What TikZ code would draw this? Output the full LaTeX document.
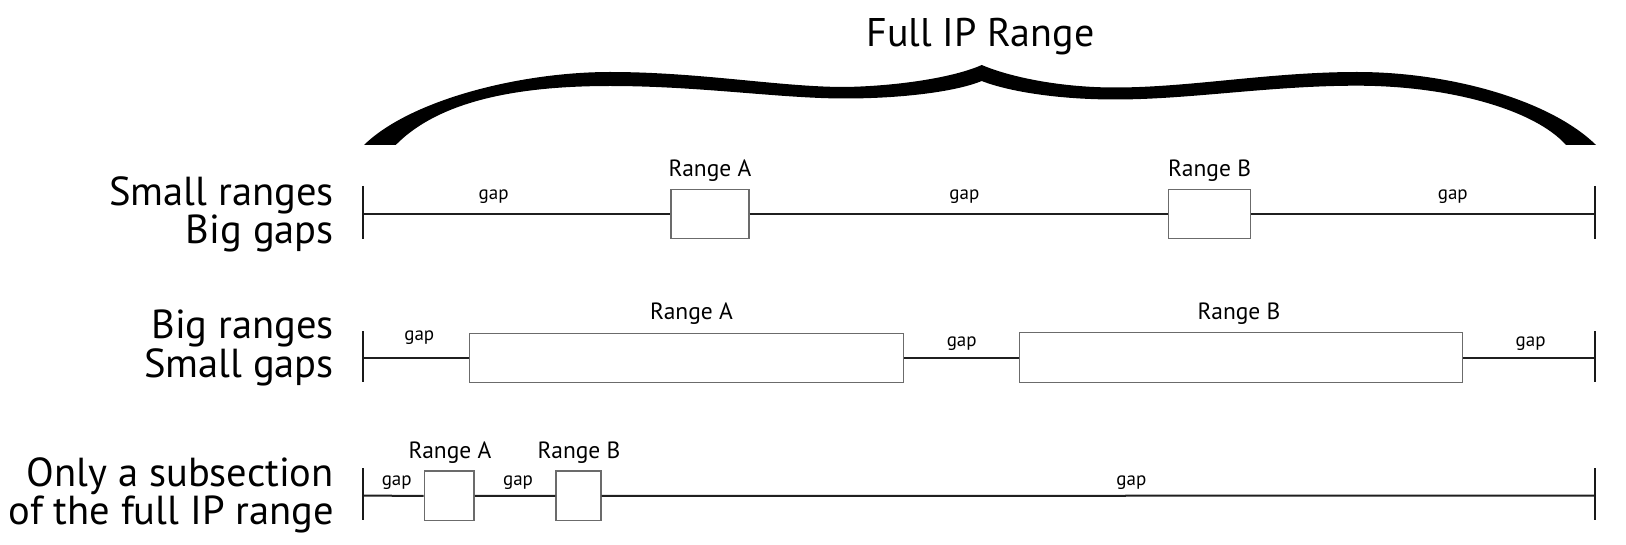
\documentclass[tikz,border=0pt]{standalone}
\usepackage{fontspec}
\setmainfont{PT Sans}
\begin{document}
\begin{tikzpicture}[x=1bp,y=-1bp,
  axis/.style={line width=2bp, draw=black!88},
  tickmark/.style={line width=2.2bp, draw=black!90},
  rangebox/.style={draw=black!58, line width=1.4bp, fill=white, inner sep=0pt, minimum height=49.5bp},
  gaplbl/.style={font=\fontsize{19bp}{22bp}\selectfont, inner sep=0pt, anchor=base},
  rnglbl/.style={font=\fontsize{23.5bp}{26bp}\selectfont, inner sep=0pt, anchor=base},
  rowlbl/.style={font=\fontsize{40.5bp}{33bp}\selectfont, inner sep=0pt, anchor=base east, align=right},
  titlelbl/.style={font=\fontsize{40bp}{44bp}\selectfont, inner sep=0pt, anchor=base}]
\useasboundingbox (0,0) rectangle (1626,545);

% brace
\fill[black] (364,145)
  .. controls (410,100) and (520,72) .. (610,72)
  .. controls (700,72) and (780,87) .. (845,87)
  .. controls (900,86) and (955,77) .. (981.7,65)
  .. controls (1010,77) and (1060,87.5) .. (1115,87.5)
  .. controls (1190,87.5) and (1270,72) .. (1357,72)
  .. controls (1450,72) and (1550,100) .. (1596,145)
  -- (1566,145)
  .. controls (1535,110) and (1450,85.7) .. (1357,85.7)
  .. controls (1270,85.7) and (1190,99.5) .. (1115,99.5)
  .. controls (1060,99.5) and (1010,92) .. (981.7,81)
  .. controls (955,92) and (900,98.5) .. (845,98.5)
  .. controls (780,98.5) and (700,86) .. (610,86)
  .. controls (520,86) and (440,100) .. (395.7,145)
  -- cycle;
\node[titlelbl] (title) at (980.5,46.7) {Full IP Range};

% row 1
\coordinate (r1L) at (363.3,214);
\coordinate (r1R) at (1595,214);
\coordinate (r1Lt) at (363.3,186);
\coordinate (r1Lb) at (363.3,239);
\coordinate (r1Rt) at (1595,186);
\coordinate (r1Rb) at (1595,239);
\node[rangebox, minimum width=77.7bp] (r1A) at (710,214) {};
\node[rangebox, minimum width=82bp] (r1B) at (1209.6,214) {};
\draw[axis] (r1L) -- (r1A.west) (r1A.east) -- (r1B.west) (r1B.east) -- (r1R);
\draw[tickmark] (r1Lt) -- (r1Lb) (r1Rt) -- (r1Rb);
\node[rnglbl] (r1Al) at (710,176.5) {Range A};
\node[rnglbl] (r1Bl) at (1209.6,176.5) {Range B};
\node[gaplbl] (r1g1) at (493.6,200) {gap};
\node[gaplbl] (r1g2) at (964.4,200) {gap};
\node[gaplbl] (r1g3) at (1452.8,200) {gap};
\node[rowlbl] (r1t) at (334,244) {Small ranges\\Big gaps};

% row 2
\coordinate (r2L) at (363.3,358.3);
\coordinate (r2R) at (1595,358.3);
\coordinate (r2Lt) at (363.3,331);
\coordinate (r2Lb) at (363.3,382);
\coordinate (r2Rt) at (1595,331);
\coordinate (r2Rb) at (1595,382);
\node[rangebox, minimum width=434bp] (r2A) at (686.3,358) {};
\node[rangebox, minimum width=443bp] (r2B) at (1240.8,357.5) {};
\draw[axis] (r2L) -- (r2A.west |- r2L) (r2A.east |- r2L) -- (r2B.west |- r2L) (r2B.east |- r2L) -- (r2R);
\draw[tickmark] (r2Lt) -- (r2Lb) (r2Rt) -- (r2Rb);
\node[rnglbl] (r2Al) at (691.5,320) {Range A};
\node[rnglbl] (r2Bl) at (1239,320) {Range B};
\node[gaplbl] (r2g1) at (419.3,340) {gap};
\node[gaplbl] (r2g2) at (961.7,346.5) {gap};
\node[gaplbl] (r2g3) at (1530.6,346.5) {gap};
\node[rowlbl] (r2t) at (334,377) {Big ranges\\Small gaps};

% row 3
\coordinate (r3L) at (363.3,495.7);
\coordinate (r3R) at (1595,495.7);
\coordinate (r3Lt) at (363.3,468.3);
\coordinate (r3Lb) at (363.3,520);
\coordinate (r3Rt) at (1595,468.3);
\coordinate (r3Rb) at (1595,520);
\node[rangebox, minimum width=49.7bp] (r3A) at (449.2,495.8) {};
\node[rangebox, minimum width=45bp] (r3B) at (578.5,495.8) {};
\draw[axis] (r3L) -- (r3A.west) (r3A.east) -- (r3B.west) (r3B.east) -- (r3R);
\draw[tickmark] (r3Lt) -- (r3Lb) (r3Rt) -- (r3Rb);
\node[rnglbl] (r3Al) at (450,458.3) {Range A};
\node[rnglbl] (r3Bl) at (579,458.3) {Range B};
\node[gaplbl] (r3g1) at (396.7,485) {gap};
\node[gaplbl] (r3g2) at (518,485) {gap};
\node[gaplbl] (r3g3) at (1131.4,485) {gap};
\node[rowlbl] (r3t) at (334,524) {Only a subsection\\of the full IP range};
\end{tikzpicture}
\end{document}
